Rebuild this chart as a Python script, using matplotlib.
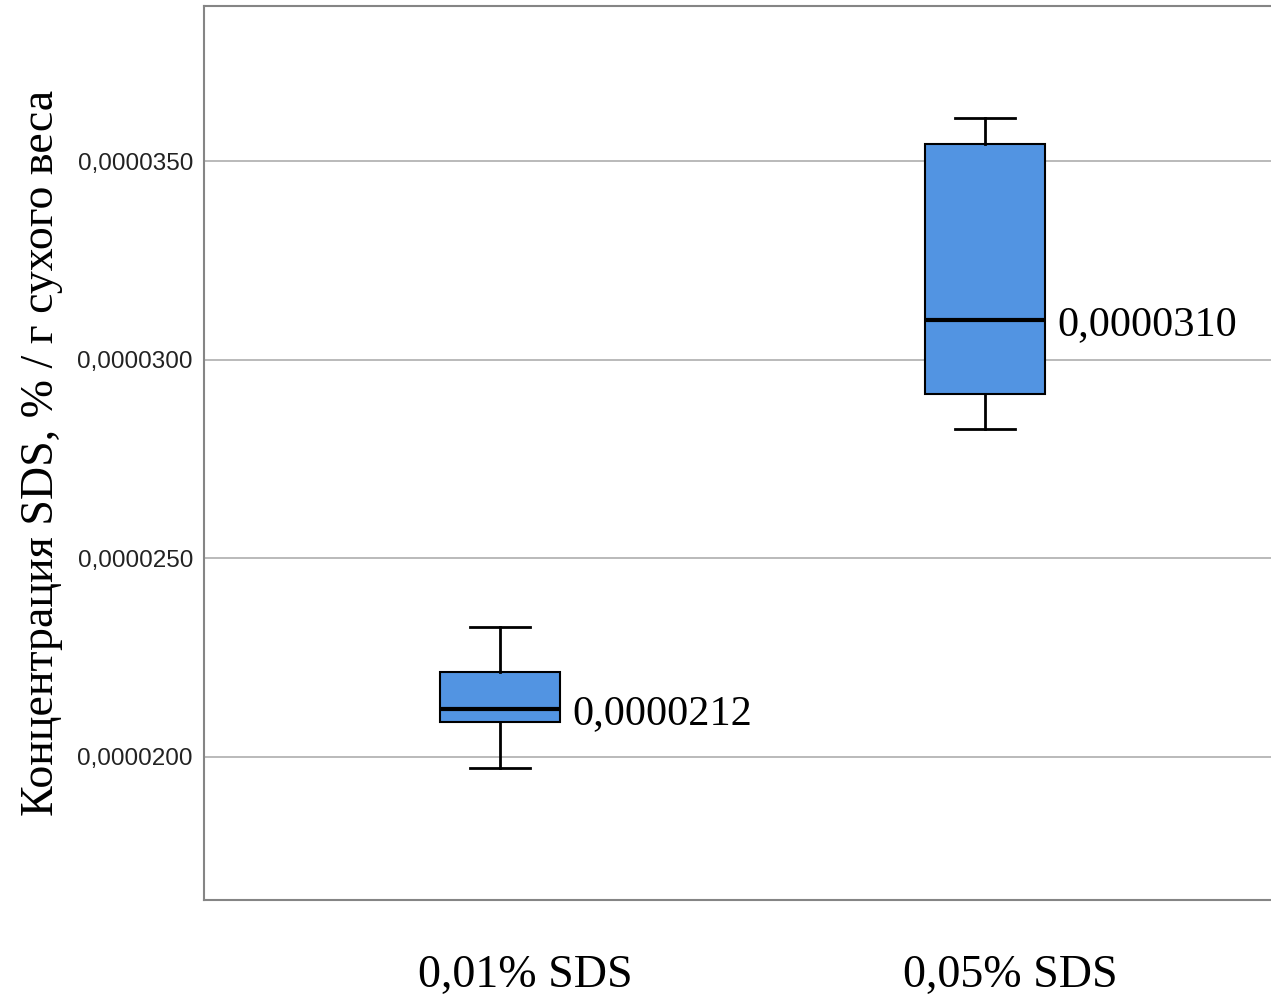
import matplotlib
matplotlib.use("Agg")
import matplotlib.pyplot as plt
import matplotlib.transforms as mtransforms
from matplotlib.ticker import FixedLocator, FuncFormatter

# Group names and five-number summaries of SDS concentration (% per g dry weight)
groups = ["0,01% SDS", "0,05% SDS"]
whisker_low = [0.00001972, 0.00002826]
q1 = [0.00002088, 0.00002914]
median = [0.0000212, 0.0000310]
q3 = [0.00002214, 0.00003543]
whisker_high = [0.00002327, 0.00003608]
y_ticks = [0.0000200, 0.0000250, 0.0000300, 0.0000350]

fig = plt.figure(figsize=(12.71, 9.97), dpi=100)
ax = fig.add_axes([0.1605, 0.0973, 0.8395, 0.8966])

stats = []
for i, name in enumerate(groups):
    stats.append(dict(label=name, whislo=whisker_low[i], q1=q1[i], med=median[i],
                      q3=q3[i], whishi=whisker_high[i], fliers=[]))

positions = list(range(len(groups)))
ax.bxp(stats, positions=positions, widths=0.247, patch_artist=True, showfliers=False,
       boxprops=dict(facecolor="#5294e2", edgecolor="black", linewidth=1.5),
       medianprops=dict(color="black", linewidth=3),
       whiskerprops=dict(color="black", linewidth=2),
       capprops=dict(color="black", linewidth=2),
       capwidths=0.125, zorder=3)

ax.set_xlim(-0.610, 1.590)
ax.set_ylim(0.0000164, 0.0000389)

# Median value labels next to each box
for x, m in zip(positions, median):
    ax.annotate(f"{m:.7f}".replace(".", ","), xy=(x + 0.1235, m), xytext=(9, 0),
                textcoords="offset points", va="center_baseline", ha="left",
                fontsize=30.5, family="Liberation Serif", zorder=4)

ax.yaxis.set_major_locator(FixedLocator(y_ticks))
ax.yaxis.set_major_formatter(FuncFormatter(lambda v, p: f"{v:.7f}".replace(".", ",")))
ax.grid(axis="y", color="#b4b4b4", linewidth=1.3, zorder=0)
ax.set_axisbelow(True)

# Category labels below the axis, slightly right of each box centre
ax.set_xticks(positions)
ax.set_xticklabels([])
label_tf = ax.get_xaxis_transform() + mtransforms.ScaledTranslation(
    25 / 100, -76 / 100, fig.dpi_scale_trans)
for x, name in zip(positions, groups):
    ax.text(x, 0, name, transform=label_tf, ha="center", va="center",
            fontsize=33, family="Liberation Serif")

ax.tick_params(axis="x", length=0)
ax.tick_params(axis="y", length=0, pad=8, labelsize=17.5, labelcolor="#222222")
for lbl in ax.get_yticklabels():
    lbl.set_family("Liberation Sans")

ax.set_ylabel("Концентрация SDS, % / г сухого веса", fontsize=33,
              family="Liberation Serif", labelpad=10)

for side in ["left", "bottom", "top"]:
    ax.spines[side].set_color("#858585")
    ax.spines[side].set_linewidth(1.5)
ax.spines["right"].set_visible(False)

fig.savefig("out.png", dpi=100, facecolor="white")
